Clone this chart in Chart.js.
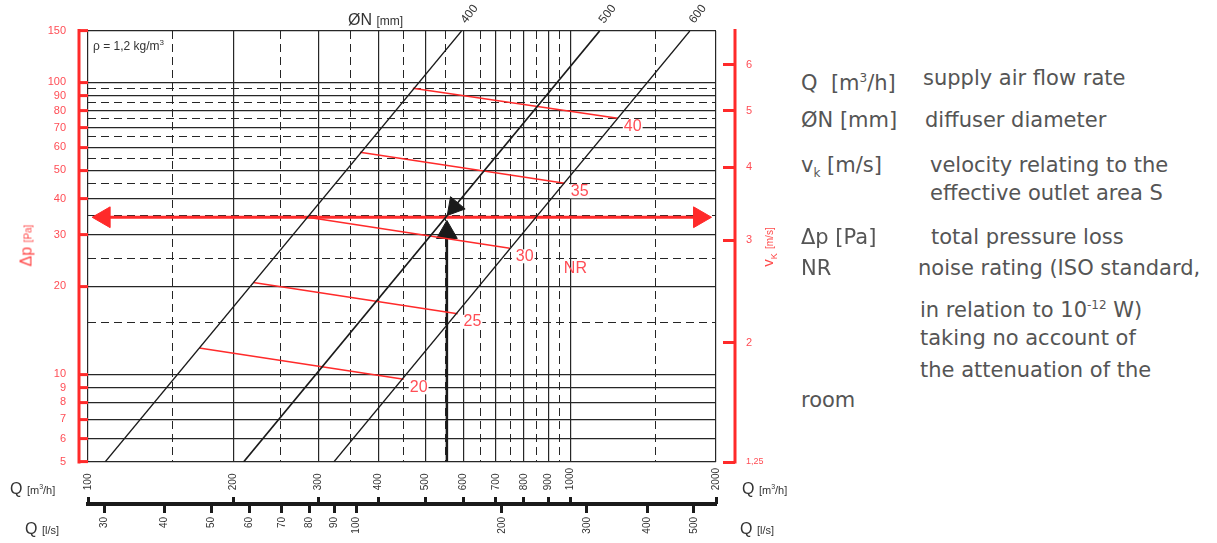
<!DOCTYPE html>
<html lang="en">
<head>
<meta charset="UTF-8" />
<title>Diffuser pressure loss chart</title>
<script src="https://cdn.jsdelivr.net/npm/chart.js"></script>
<style>
  body { margin: 0; width: 1217px; height: 543px; background: #fff; position: relative; overflow: hidden;
         font-family: "Liberation Sans", Arial, sans-serif; }
  #wrap { position: absolute; left: 0; top: 0; width: 800px; height: 543px; }
  .lbl { position: absolute; white-space: nowrap; color: #333; line-height: 1; }
  .red { color: #ff4a4a; }
  .rot { transform: rotate(-90deg); transform-origin: 50% 50%; text-align: center; }
  .legend { position: absolute; white-space: nowrap; font-family: "DejaVu Sans", sans-serif;
            font-size: 21px; line-height: 24px; color: #555; }
  .legend sup, .legend sub { font-size: 12px; }
</style>
</head>
<body>

<div id="wrap"><canvas id="chart" width="800" height="543"></canvas></div>

<!-- axis titles -->
<div class="lbl" style="left:348px;top:12px;font-size:16px">ØN <span style="font-size:12px">[mm]</span></div>
<div class="lbl" style="left:93px;top:39px;font-size:12px">ρ = 1,2 kg/m<sup style="font-size:8px">3</sup></div>
<div class="lbl red rot" style="left:-13px;top:237px;width:80px;height:17px;font-size:16px">Δp <span style="font-size:10px">[Pa]</span></div>
<div class="lbl red rot" style="left:728px;top:239px;width:80px;height:16px;font-size:15px">v<sub style="font-size:9px">K</sub> <span style="font-size:10px">[m/s]</span></div>
<div class="lbl" style="left:10px;top:481px;font-size:16px">Q <span style="font-size:11px">[m<sup style="font-size:7px">3</sup>/h]</span></div>
<div class="lbl" style="left:742px;top:481px;font-size:16px">Q <span style="font-size:11px">[m<sup style="font-size:7px">3</sup>/h]</span></div>
<div class="lbl" style="left:25px;top:521px;font-size:16px">Q <span style="font-size:11px">[l/s]</span></div>
<div class="lbl" style="left:740px;top:521px;font-size:16px">Q <span style="font-size:11px">[l/s]</span></div>

<!-- explanation of symbols -->
<div class="legend" style="left:801px;top:66px">Q&nbsp; [m<sup>3</sup>/h]</div>
<div class="legend" style="left:923px;top:66px">supply air flow rate</div>
<div class="legend" style="left:801px;top:108px">ØN [mm]</div>
<div class="legend" style="left:925px;top:108px">diffuser diameter</div>
<div class="legend" style="left:801px;top:153px">v<sub>k</sub> [m/s]</div>
<div class="legend" style="left:930px;top:153px">velocity relating to the</div>
<div class="legend" style="left:930px;top:181px">effective outlet area S</div>
<div class="legend" style="left:801px;top:225px">Δp [Pa]</div>
<div class="legend" style="left:931px;top:225px">total pressure loss</div>
<div class="legend" style="left:801px;top:256px">NR</div>
<div class="legend" style="left:918px;top:256px">noise rating (ISO standard,</div>
<div class="legend" style="left:920px;top:293px">in relation to 10<sup>-12</sup> W)</div>
<div class="legend" style="left:920px;top:326px">taking no account of</div>
<div class="legend" style="left:920px;top:358px">the attenuation of the</div>
<div class="legend" style="left:801px;top:388px">room</div>

<script>
  // tick values
  const flowTicks = [100, 200, 300, 400, 500, 600, 700, 800, 900, 1000, 2000];
  const flowHalfTicks = [150, 250, 350, 450, 550, 650, 750, 850, 950, 1500];
  const litreTicks = [30, 40, 50, 60, 70, 80, 90, 100, 200, 300, 400, 500];
  const pressureTicks = [5, 6, 7, 8, 9, 10, 20, 30, 40, 50, 60, 70, 80, 90, 100, 150];
  const pressureHalfTicks = [15, 25, 35, 45, 55, 65, 75, 85, 95];
  const velocityTicks = [1.25, 2, 3, 4, 5, 6];
  const velocityRange = [1.25, 6.85];

  // diffuser lines: Q [m3/h] at 5 Pa and at 150 Pa
  const diameters = ['400', '500', '600'];
  const diameterPressure = [5, 150];
  const diameterFlow = [[108.5, 594], [210, 1148], [323, 1765]];

  // noise rating lines (from the 400 line to the 600 line)
  const nrLevels = ['20', '25', '30', '35', '40'];
  const nrFlowStart = [170, 220, 285, 366, 471];
  const nrPressureStart = [12.3, 20.6, 34.5, 57.6, 95.5];
  const nrFlowEnd = [451, 583, 748, 972, 1252];
  const nrPressureEnd = [9.6, 16.1, 27.0, 45.1, 75.4];

  // worked example
  const guideFlow = [108, 1849];
  const guidePressure = 34.5;
  const readFlow = 554;
  const readPressure = [5, 30.6];
  const headFlow = 574;
  const headPressure = 37.4;

  const RED = '#ff2a2a';
  const RED_TXT = '#ff4d55';
  const GRID = '#262626';
  const INK = '#1a1a1a';

  function fixedTicks(values) {
    return scale => { scale.ticks = values.map(v => ({ value: v })); };
  }

  const datasets = [];

  diameters.forEach((d, i) => {
    datasets.push({
      label: 'ØN ' + d,
      data: diameterPressure.map((p, k) => ({ x: diameterFlow[i][k], y: p })),
      borderColor: INK,
      borderWidth: d === '500' ? 1.7 : 1.3,
      pointRadius: 0,
      showLine: true,
      endLabel: d, labelColor: '#333', labelFont: '12px "Liberation Sans", Arial',
      labelDx: 8, labelDy: -17, labelRot: -52, labelBox: false
    });
  });

  nrLevels.forEach((n, i) => {
    datasets.push({
      label: 'NR ' + n,
      data: [{ x: nrFlowStart[i], y: nrPressureStart[i] }, { x: nrFlowEnd[i], y: nrPressureEnd[i] }],
      borderColor: RED,
      borderWidth: 1.5,
      pointRadius: 0,
      showLine: true,
      endLabel: n, labelColor: RED_TXT, labelFont: '16px "Liberation Sans", Arial',
      labelDx: 6, labelDy: 8, labelRot: 0, labelBox: true,
      note: n === '30' ? 'NR' : null, noteDx: 48, noteDy: 12
    });
  });

  datasets.push({
    label: 'guide',
    data: guideFlow.map(q => ({ x: q, y: guidePressure })),
    borderColor: RED,
    borderWidth: 3,
    showLine: true,
    pointStyle: 'triangle',
    rotation: [-90, 90],
    pointRadius: 12,
    pointBackgroundColor: RED,
    pointBorderColor: RED,
    pointBorderWidth: 1
  });

  datasets.push({
    label: 'read',
    data: readPressure.map(p => ({ x: readFlow, y: p })),
    borderColor: INK,
    borderWidth: 2.5,
    showLine: true,
    pointStyle: 'triangle',
    pointRadius: [0, 12],
    pointBackgroundColor: INK,
    pointBorderColor: INK,
    pointBorderWidth: 1
  });

  datasets.push({
    label: 'head',
    data: [{ x: headFlow, y: headPressure }],
    showLine: false,
    pointStyle: 'triangle',
    rotation: 220,
    pointRadius: 11,
    pointBackgroundColor: INK,
    pointBorderColor: INK,
    pointBorderWidth: 1
  });

  const lineLabels = {
    id: 'lineLabels',
    afterDatasetsDraw(chart) {
      const ctx = chart.ctx;
      chart.data.datasets.forEach((ds, i) => {
        if (!ds.endLabel) return;
        const pts = chart.getDatasetMeta(i).data;
        const p = pts[pts.length - 1];
        ctx.save();
        ctx.translate(p.x + ds.labelDx, p.y + ds.labelDy);
        ctx.rotate(ds.labelRot * Math.PI / 180);
        ctx.font = ds.labelFont;
        ctx.textBaseline = 'middle';
        ctx.textAlign = ds.labelBox ? 'left' : 'center';
        if (ds.labelBox) {
          const w = ctx.measureText(ds.endLabel).width;
          ctx.fillStyle = '#fff';
          ctx.fillRect(-1, -7, w + 2, 14);
        }
        ctx.fillStyle = ds.labelColor;
        ctx.fillText(ds.endLabel, 0, 0);
        if (ds.note) ctx.fillText(ds.note, ds.noteDx, ds.noteDy);
        ctx.restore();
      });
    }
  };

  const redAxisLines = {
    id: 'redAxisLines',
    afterDraw(chart) {
      const { y, yv } = chart.scales;
      const ctx = chart.ctx;
      ctx.save();
      ctx.strokeStyle = RED;
      ctx.lineWidth = 3;
      ctx.beginPath();
      const xl = y.right - y.options.grid.tickLength;
      ctx.moveTo(xl, y.top - 2);
      ctx.lineTo(xl, y.bottom + 1.5);
      const xr = yv.left + yv.options.grid.tickLength;
      ctx.moveTo(xr, yv.top - 2);
      ctx.lineTo(xr, yv.bottom + 1.5);
      ctx.stroke();
      ctx.restore();
    }
  };

  new Chart(document.getElementById('chart'), {
    type: 'scatter',
    data: { datasets },
    plugins: [lineLabels, redAxisLines],
    options: {
      responsive: false,
      animation: false,
      events: [],
      layout: { autoPadding: false, padding: { left: 0, top: 31, right: 32, bottom: 5 } },
      plugins: { legend: { display: false }, tooltip: { enabled: false } },
      font: { family: '"Liberation Sans", Arial, sans-serif' },
      scales: {
        x: {
          type: 'logarithmic', position: 'bottom', weight: 0, min: 100, max: 2000,
          afterBuildTicks: fixedTicks(flowTicks),
          afterFit: s => { s.height = 35; },
          ticks: {
            autoSkip: false, minRotation: 90, maxRotation: 90, padding: 6, color: '#333',
            font: { size: 10 },
            callback: v => (v < 1000 ? v + '  ' : String(v))
          },
          grid: { color: GRID, lineWidth: 1.2, drawTicks: false },
          border: { display: false }
        },
        xTicks: {
          type: 'logarithmic', position: 'bottom', weight: 1, min: 100, max: 2000,
          afterBuildTicks: fixedTicks(flowTicks),
          afterFit: s => { s.height = 7; },
          ticks: { display: false },
          grid: { drawOnChartArea: false, tickLength: 7, tickWidth: 3, tickColor: INK },
          border: { display: false }
        },
        xLitre: {
          type: 'logarithmic', position: 'bottom', weight: 2, min: 100 / 3.6, max: 2000 / 3.6,
          afterBuildTicks: fixedTicks(litreTicks),
          afterFit: s => { s.height = 34; },
          ticks: {
            autoSkip: false, minRotation: 90, maxRotation: 90, padding: 4, color: '#333',
            font: { size: 10 },
            callback: v => String(v)
          },
          grid: { drawOnChartArea: false, tickLength: 9, tickWidth: 3, tickColor: INK },
          border: { display: true, width: 4, color: INK }
        },
        xHalf: {
          type: 'logarithmic', position: 'bottom', weight: 3, min: 100, max: 2000,
          afterBuildTicks: fixedTicks(flowHalfTicks),
          afterFit: s => { s.height = 0; },
          ticks: { display: false },
          grid: { color: GRID, lineWidth: 1, drawTicks: false },
          border: { display: false, dash: [8, 5] }
        },
        y: {
          type: 'logarithmic', position: 'left', weight: 0, min: 5, max: 150,
          afterBuildTicks: fixedTicks(pressureTicks),
          afterFit: s => { s.width = 88; },
          ticks: { autoSkip: false, padding: 13, color: RED_TXT, font: { size: 11 }, callback: v => String(v) },
          grid: { color: GRID, lineWidth: 1.2, tickLength: 9, tickWidth: 3, tickColor: RED },
          border: { display: false }
        },
        yHalf: {
          type: 'logarithmic', position: 'left', weight: 1, min: 5, max: 150,
          afterBuildTicks: fixedTicks(pressureHalfTicks),
          afterFit: s => { s.width = 0; },
          ticks: { display: false },
          grid: { color: GRID, lineWidth: 1, drawTicks: false },
          border: { display: false, dash: [8, 5] }
        },
        gapR: {
          type: 'linear', position: 'right', weight: 0,
          afterFit: s => { s.width = 7; },
          ticks: { display: false },
          grid: { display: false, drawTicks: false },
          border: { display: false }
        },
        yv: {
          type: 'logarithmic', position: 'right', weight: 1, min: velocityRange[0], max: velocityRange[1],
          afterBuildTicks: fixedTicks(velocityTicks),
          afterFit: s => { s.width = 45; },
          ticks: {
            autoSkip: false, padding: 11, color: RED_TXT,
            font: c => ({ size: c.tick && c.tick.value === 1.25 ? 9 : 11 }),
            callback: v => (v === 1.25 ? '1,25' : String(v))
          },
          grid: { drawOnChartArea: false, tickLength: 12, tickWidth: 3, tickColor: RED },
          border: { display: false }
        }
      }
    }
  });
</script>
</body>
</html>
